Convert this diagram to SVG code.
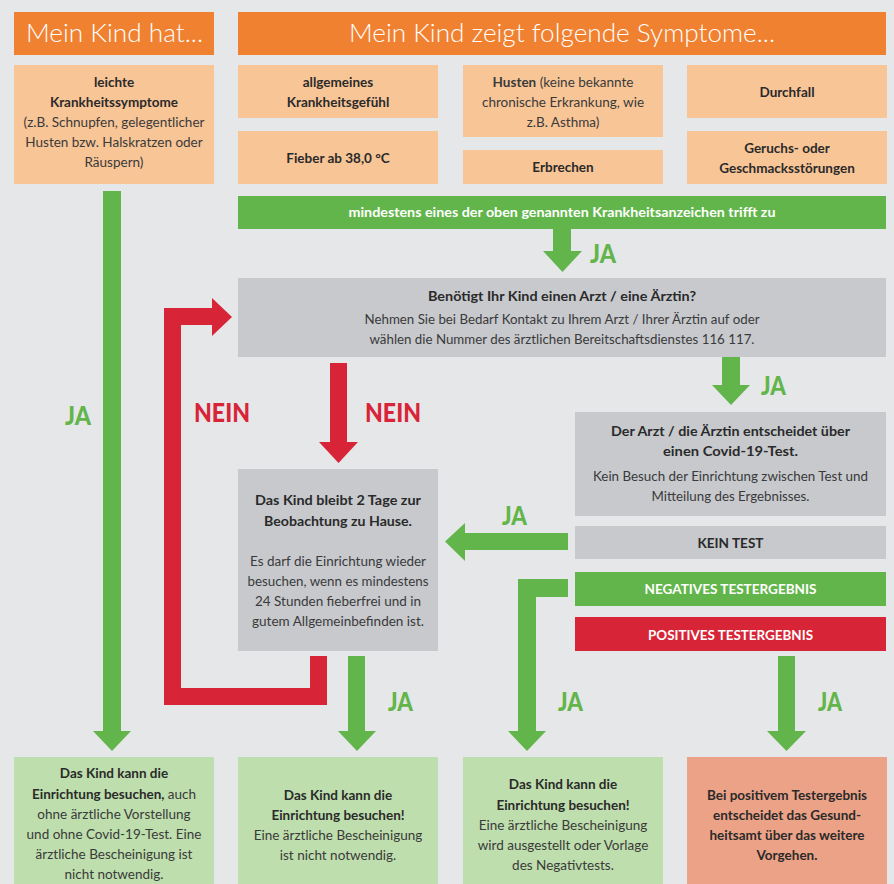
<svg xmlns="http://www.w3.org/2000/svg" width="894" height="884" viewBox="0 0 894 884">
<style>
text{font-family:Lato,"Liberation Sans",sans-serif;fill:#2a2a2a;text-anchor:middle}
.hd{fill:#fff;font-size:25px;font-weight:300}
.b{font-size:13.5px;font-weight:700}
.n{font-size:13.5px;font-weight:400;fill:#3a3a3a}
.w{fill:#fff;font-size:13.5px;font-weight:700}
.ja{fill:#62b54a;font-size:27px;font-weight:900;text-anchor:start}
.nein{fill:#d72537;font-size:27px;font-weight:900;text-anchor:start}
.or{fill:#f08131}.lo{fill:#f8c597}.gr{fill:#62b54a}.rd{fill:#d72537}.gy{fill:#c7c9cd}.lg{fill:#bedead}.sa{fill:#eca287}
.sg{fill:none;stroke:#62b54a;stroke-width:18}
.sr{fill:none;stroke:#d72537;stroke-width:17}
</style>
<rect width="894" height="884" fill="#e6e7e9"/>
<g id="hdr1"><rect class="or" x="14" y="12" width="200" height="43"/><text class="hd" x="114.5" y="42" textLength="177" lengthAdjust="spacingAndGlyphs">Mein Kind hat...</text></g>
<g id="hdr2"><rect class="or" x="238" y="12" width="648" height="43"/><text class="hd" x="562" y="42" textLength="426" lengthAdjust="spacingAndGlyphs">Mein Kind zeigt folgende Symptome...</text></g>
<g id="leicht"><rect class="lo" x="14" y="65" width="200" height="119"/>
<text class="b" x="114" y="87">leichte</text>
<text class="b" x="114" y="107">Krankheitssymptome</text>
<text class="n" x="114" y="127">(z.B. Schnupfen, gelegentlicher</text>
<text class="n" x="114" y="147">Husten bzw. Halskratzen oder</text>
<text class="n" x="114" y="167">Räuspern)</text></g>
<g id="allg"><rect class="lo" x="238" y="65" width="200" height="53"/>
<text class="b" x="338" y="87">allgemeines</text>
<text class="b" x="338" y="107">Krankheitsgefühl</text></g>
<g id="fieber"><rect class="lo" x="238" y="131" width="200" height="53"/>
<text class="b" x="338" y="163">Fieber ab 38,0 °C</text></g>
<g id="husten"><rect class="lo" x="463" y="65" width="200" height="72"/>
<text class="n" x="563" y="87"><tspan class="b">Husten</tspan> (keine bekannte</text>
<text class="n" x="563" y="107">chronische Erkrankung, wie</text>
<text class="n" x="563" y="127">z.B. Asthma)</text></g>
<g id="erbrechen"><rect class="lo" x="463" y="150" width="200" height="34"/>
<text class="b" x="563" y="172">Erbrechen</text></g>
<g id="durchfall"><rect class="lo" x="687" y="65" width="200" height="53"/>
<text class="b" x="787" y="97">Durchfall</text></g>
<g id="geruch"><rect class="lo" x="687" y="131" width="200" height="53"/>
<text class="b" x="787" y="153">Geruchs- oder</text>
<text class="b" x="787" y="173">Geschmacksstörungen</text></g>
<g id="mindestens"><rect class="gr" x="238" y="196" width="648" height="33"/>
<text class="w" x="562" y="217" textLength="427" lengthAdjust="spacingAndGlyphs">mindestens eines der oben genannten Krankheitsanzeichen trifft zu</text></g>
<g id="arzt"><rect class="gy" x="238" y="278" width="648" height="79"/>
<text class="b" x="562" y="301" textLength="268" lengthAdjust="spacingAndGlyphs">Benötigt Ihr Kind einen Arzt / eine Ärztin?</text>
<text class="n" x="562" y="324" textLength="395" lengthAdjust="spacingAndGlyphs">Nehmen Sie bei Bedarf Kontakt zu Ihrem Arzt / Ihrer Ärztin auf oder</text>
<text class="n" x="562" y="344" textLength="385" lengthAdjust="spacingAndGlyphs">wählen die Nummer des ärztlichen Bereitschaftsdienstes 116 117.</text></g>
<g id="entscheidet"><rect class="gy" x="575" y="412" width="311" height="104"/>
<text class="b" x="730.5" y="436" textLength="239" lengthAdjust="spacingAndGlyphs">Der Arzt / die Ärztin entscheidet über</text>
<text class="b" x="730.5" y="456" textLength="135" lengthAdjust="spacingAndGlyphs">einen Covid-19-Test.</text>
<text class="n" x="730.5" y="481" textLength="275" lengthAdjust="spacingAndGlyphs">Kein Besuch der Einrichtung zwischen Test und</text>
<text class="n" x="730.5" y="501" textLength="158" lengthAdjust="spacingAndGlyphs">Mitteilung des Ergebnisses.</text></g>
<g id="keintest"><rect class="gy" x="575" y="526" width="311" height="33"/>
<text class="b" x="730.5" y="548" textLength="66" lengthAdjust="spacingAndGlyphs">KEIN TEST</text></g>
<g id="negativ"><rect class="gr" x="575" y="572" width="311" height="34"/>
<text class="w" x="730.5" y="594" textLength="172" lengthAdjust="spacingAndGlyphs">NEGATIVES TESTERGEBNIS</text></g>
<g id="positiv"><rect class="rd" x="575" y="617" width="311" height="34"/>
<text class="w" x="730.5" y="640" textLength="165" lengthAdjust="spacingAndGlyphs">POSITIVES TESTERGEBNIS</text></g>
<g id="bleibt"><rect class="gy" x="238" y="469" width="200" height="182"/>
<text class="b" x="338" y="505" textLength="166" lengthAdjust="spacingAndGlyphs">Das Kind bleibt 2 Tage zur</text>
<text class="b" x="338" y="526" textLength="148" lengthAdjust="spacingAndGlyphs">Beobachtung zu Hause.</text>
<text class="n" x="338" y="566" textLength="176" lengthAdjust="spacingAndGlyphs">Es darf die Einrichtung wieder</text>
<text class="n" x="338" y="586" textLength="181" lengthAdjust="spacingAndGlyphs">besuchen, wenn es mindestens</text>
<text class="n" x="338" y="606" textLength="166" lengthAdjust="spacingAndGlyphs">24 Stunden fieberfrei und in</text>
<text class="n" x="338" y="626" textLength="172" lengthAdjust="spacingAndGlyphs">gutem Allgemeinbefinden ist.</text></g>
<g id="res1"><rect class="lg" x="14" y="757" width="200" height="130"/>
<text class="b" x="114" y="778">Das Kind kann die</text>
<text class="b" x="114" y="799">Einrichtung besuchen, <tspan class="n">auch</tspan></text>
<text class="n" x="114" y="819">ohne ärztliche Vorstellung</text>
<text class="n" x="114" y="839">und ohne Covid-19-Test. Eine</text>
<text class="n" x="114" y="859">ärztliche Bescheinigung ist</text>
<text class="n" x="114" y="879">nicht notwendig.</text></g>
<g id="res2"><rect class="lg" x="238" y="757" width="200" height="130"/>
<text class="b" x="338" y="800">Das Kind kann die</text>
<text class="b" x="338" y="820">Einrichtung besuchen!</text>
<text class="n" x="338" y="840">Eine ärztliche Bescheinigung</text>
<text class="n" x="338" y="860">ist nicht notwendig.</text></g>
<g id="res3"><rect class="lg" x="463" y="757" width="200" height="130"/>
<text class="b" x="563" y="789">Das Kind kann die</text>
<text class="b" x="563" y="810">Einrichtung besuchen!</text>
<text class="n" x="563" y="830">Eine ärztliche Bescheinigung</text>
<text class="n" x="563" y="850">wird ausgestellt oder Vorlage</text>
<text class="n" x="563" y="870">des Negativtests.</text></g>
<g id="res4"><rect class="sa" x="687" y="757" width="200" height="130"/>
<text class="b" x="787" y="800">Bei positivem Testergebnis</text>
<text class="b" x="787" y="820">entscheidet das Gesund-</text>
<text class="b" x="787" y="840">heitsamt über das weitere</text>
<text class="b" x="787" y="860">Vorgehen.</text></g>
<g id="connectors">
<path class="sg" d="M112 191V732"/><polygon class="gr" points="93,731 131,731 112,751"/>
<text class="ja" x="65" y="425" textLength="26" lengthAdjust="spacingAndGlyphs">JA</text>
<path class="sg" d="M562 229V252"/><polygon class="gr" points="543,251 582,251 562.5,272"/>
<text class="ja" x="590" y="263" textLength="26" lengthAdjust="spacingAndGlyphs">JA</text>
<path class="sg" d="M731 357V386"/><polygon class="gr" points="712,385 750,385 731,405"/>
<text class="ja" x="761" y="395" textLength="25" lengthAdjust="spacingAndGlyphs">JA</text>
<path class="sr" d="M338.5 363V443"/><polygon class="rd" points="319,442 358,442 338.5,463"/>
<text class="nein" x="365" y="422" textLength="56" lengthAdjust="spacingAndGlyphs">NEIN</text>
<path class="sr" d="M318.5 656V696.5H172.5V316.5H213"/><polygon class="rd" points="212,298 232,317 212,336"/>
<text class="nein" x="194" y="422" textLength="56" lengthAdjust="spacingAndGlyphs">NEIN</text>
<path class="sg" style="stroke-width:17" d="M568 541.5H464"/><polygon class="gr" points="465,523 445,541.5 465,561"/>
<text class="ja" x="502" y="525" textLength="25" lengthAdjust="spacingAndGlyphs">JA</text>
<path class="sg" d="M568 588H527V732"/><polygon class="gr" points="508,731 546,731 527,751"/>
<text class="ja" x="558" y="711" textLength="25" lengthAdjust="spacingAndGlyphs">JA</text>
<path class="sg" style="stroke-width:17" d="M356.5 656V732"/><polygon class="gr" points="338,731 376,731 357,751"/>
<text class="ja" x="388" y="711" textLength="25" lengthAdjust="spacingAndGlyphs">JA</text>
<path class="sg" style="stroke-width:17" d="M786.5 656V732"/><polygon class="gr" points="767,731 806,731 786.5,751"/>
<text class="ja" x="818" y="711" textLength="24" lengthAdjust="spacingAndGlyphs">JA</text>
</g>
</svg>
